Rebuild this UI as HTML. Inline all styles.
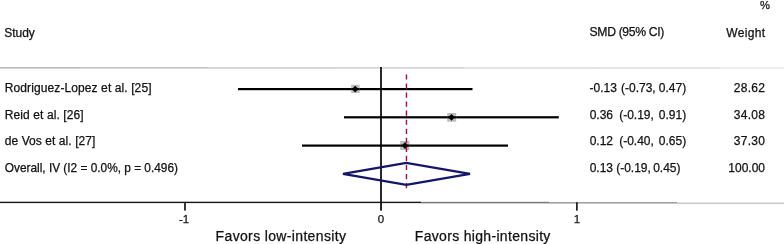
<!DOCTYPE html>
<html><head><meta charset="utf-8">
<style>
html,body{margin:0;padding:0;background:#fff;width:784px;height:244px;overflow:hidden}
svg{display:block;will-change:transform}
text{font-family:"Liberation Sans",sans-serif;fill:#111;stroke:#111;stroke-width:0.25px}
</style></head>
<body>
<svg width="784" height="244" viewBox="0 0 784 244">


<!-- header texts -->
<text x="759.9" y="8.6" font-size="11.2">%</text>
<text x="4.2" y="36.5" font-size="12">Study</text>
<text x="589.6" y="36.4" font-size="12.2" letter-spacing="-0.35">SMD (95% CI)</text>
<text x="765.3" y="36.5" font-size="12" text-anchor="end" letter-spacing="0.3">Weight</text>

<!-- separator -->
<rect x="0" y="67" width="80" height="1.6" fill="#bababa"/>
<rect x="80" y="67" width="128" height="1.6" fill="#c2c2c2"/>
<rect x="208" y="67" width="128" height="1.8" fill="#d2d2d2"/>
<rect x="336" y="67" width="128" height="1.8" fill="#d8d8d8"/>
<rect x="464" y="67.2" width="130" height="1.6" fill="#dcdcdc"/>
<rect x="594" y="67.2" width="126" height="1.6" fill="#e0e0e0"/>
<rect x="720" y="67.3" width="64" height="1.6" fill="#ececec"/>

<!-- study labels -->
<text x="4.8" y="92" font-size="12" letter-spacing="0.1">Rodriguez-Lopez et al. [25]</text>
<text x="4.8" y="118.6" font-size="12" letter-spacing="0.1">Reid et al. [26]</text>
<text x="4.8" y="145.4" font-size="12" letter-spacing="0.07">de Vos et al. [27]</text>
<text x="4.8" y="172.2" font-size="11.85">Overall, IV (I2 = 0.0%, p = 0.496)</text>

<!-- SMD column -->
<text x="589.6" y="92" font-size="12">-0.13</text>
<text x="621.0" y="92" font-size="12">(-0.73,</text>
<text x="658.8" y="92" font-size="12">0.47)</text>
<text x="589.7" y="118.6" font-size="12">0.36</text>
<text x="619.2" y="118.6" font-size="12">(-0.19,</text>
<text x="658.8" y="118.6" font-size="12">0.91)</text>
<text x="589.7" y="145.4" font-size="12">0.12</text>
<text x="619.2" y="145.4" font-size="12">(-0.40,</text>
<text x="658.8" y="145.4" font-size="12">0.65)</text>
<text x="589.7" y="172.2" font-size="12">0.13</text>
<text x="616.2" y="172.2" font-size="12">(-0.19,</text>
<text x="653.2" y="172.2" font-size="12">0.45)</text>

<!-- weights -->
<text x="765.3" y="92" font-size="12" text-anchor="end" letter-spacing="0.3">28.62</text>
<text x="765.3" y="118.6" font-size="12" text-anchor="end" letter-spacing="0.3">34.08</text>
<text x="765.3" y="145.4" font-size="12" text-anchor="end" letter-spacing="0.3">37.30</text>
<text x="765" y="172.2" font-size="12" text-anchor="end">100.00</text>

<!-- zero line -->
<rect x="380.1" y="67" width="1.8" height="143.6" fill="#111"/>

<!-- axis -->
<rect x="0" y="201.7" width="421" height="1.4" fill="#151515"/>
<rect x="421" y="201.8" width="128" height="1.6" fill="#7c7c7c"/>
<rect x="549" y="202" width="128" height="1.6" fill="#a2a2a2"/>
<rect x="677" y="202.4" width="107" height="1.7" fill="#cdcdcd"/>
<rect x="184.1" y="202" width="1.75" height="8.6" fill="#1c1c1c"/>
<rect x="576" y="202.2" width="1.75" height="8.5" fill="#242424"/>

<text x="184" y="223" font-size="11.5" text-anchor="middle">-1</text>
<text x="381" y="223" font-size="11.5" text-anchor="middle">0</text>
<text x="577" y="223" font-size="11.5" text-anchor="middle">1</text>

<text x="215.6" y="240.6" font-size="14" letter-spacing="0.35">Favors low-intensity</text>
<text x="414.8" y="240.6" font-size="14" letter-spacing="0.32">Favors high-intensity</text>

<!-- CI lines -->
<rect x="238" y="88" width="234.5" height="2.2" fill="#000"/>
<rect x="344" y="116.2" width="214.8" height="2.2" fill="#000"/>
<rect x="302" y="144.5" width="206" height="2.2" fill="#000"/>

<!-- weight boxes -->
<rect x="351.2" y="84.8" width="8.4" height="8.2" fill="#bdbdbd"/>
<rect x="447.2" y="113" width="9" height="8.7" fill="#bdbdbd"/>
<rect x="400.2" y="141" width="9.2" height="9" fill="#bdbdbd"/>
<!-- redraw CI lines over boxes -->
<rect x="351.2" y="88" width="8.4" height="2.2" fill="#000"/>
<rect x="447.2" y="116.2" width="9" height="2.2" fill="#000"/>
<rect x="400.2" y="144.5" width="9.2" height="2.2" fill="#000"/>

<!-- point diamonds -->
<polygon points="355.2,85.7 358.4,89.1 355.2,92.5 352,89.1" fill="#000"/>
<polygon points="451.5,113.9 454.7,117.3 451.5,120.7 448.3,117.3" fill="#000"/>
<polygon points="405,142.2 408.2,145.6 405,149 401.8,145.6" fill="#000"/>

<!-- dashed line -->
<line x1="406.45" y1="74.4" x2="406.45" y2="188.3" stroke="#8b1c3c" stroke-width="1.4" stroke-dasharray="5.2 3.85"/>

<!-- overall diamond -->
<polygon points="343,173.8 406.3,162.9 470,173.8 406.3,184.9" fill="none" stroke="#141468" stroke-width="2.2" stroke-linejoin="miter"/>
</svg>
</body></html>
